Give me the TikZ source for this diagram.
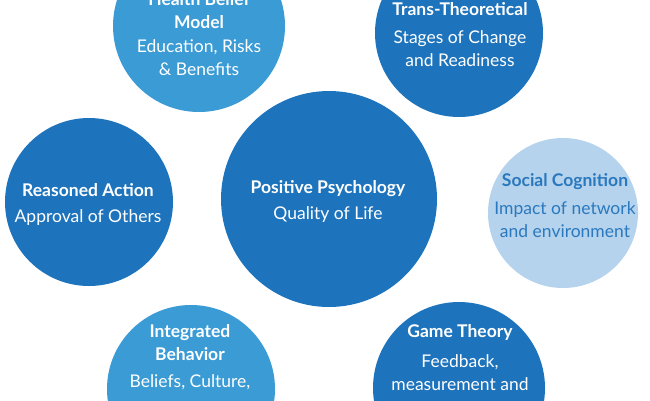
\documentclass[tikz,border=0pt]{standalone}
\usepackage{fontspec}
\setmainfont{Lato}
\usepackage{tikz}
\usetikzlibrary{positioning}
\definecolor{bubDark}{HTML}{1E74BC}
\definecolor{bubMid}{HTML}{3A9BD5}
\definecolor{bubLight}{HTML}{B5D3EC}
\definecolor{txtBlue}{HTML}{2A78BE}

\begin{document}
\begin{tikzpicture}[x=1pt,y=-1pt,
  bub/.style={circle,inner sep=0pt,draw=none},
  lbl/.style={align=center,text=white,inner sep=0pt,font=\fontsize{17.5}{23}\selectfont}]
  \useasboundingbox (0,0) rectangle (650,400);
  \clip (0,0) rectangle (650,400);
  % bubbles
  \node[bub,fill=bubMid,minimum size=172pt] (hbm) at (199,26) {};
  \node[bub,fill=bubDark,minimum size=168pt] (ttm) at (459,33) {};
  \node[bub,fill=bubDark,minimum size=168pt] (tra) at (89,202) {};
  \node[bub,fill=bubDark,minimum size=216pt] (pos) at (329,199) {};
  \node[bub,fill=bubLight,minimum size=150pt] (sct) at (563,213) {};
  \node[bub,fill=bubMid,minimum size=168pt] (ibm) at (191,389) {};
  \node[bub,fill=bubDark,minimum size=172pt] (gth) at (459,388) {};
  % labels
  \node[lbl] (hbm-t) at (199,34) {\textbf{Health Belief}\\\textbf{Model}\\[1pt]Education, Risks\\\& Benefits};
  \node[lbl] (ttm-t) at (460,35) {\textbf{Trans-Theoretical}\\[5pt]Stages of Change\\and Readiness};
  \node[lbl] (tra-t) at (88,204) {\textbf{Reasoned Action}\\[3pt]Approval of Others};
  \node[lbl] (pos-t) at (328,201) {\textbf{Positive Psychology}\\[3pt]Quality of Life};
  \node[lbl,text=txtBlue] (sct-t) at (565,206) {\textbf{Social Cognition}\\[5pt]Impact of network\\and environment};
  \node[lbl] (ibm-t) at (190,357) {\textbf{Integrated}\\\textbf{Behavior}\\[4pt]Beliefs, Culture,};
  \node[lbl] (gth-t) at (460,358) {\textbf{Game Theory}\\[7pt]Feedback,\\measurement and};
\end{tikzpicture}
\end{document}
